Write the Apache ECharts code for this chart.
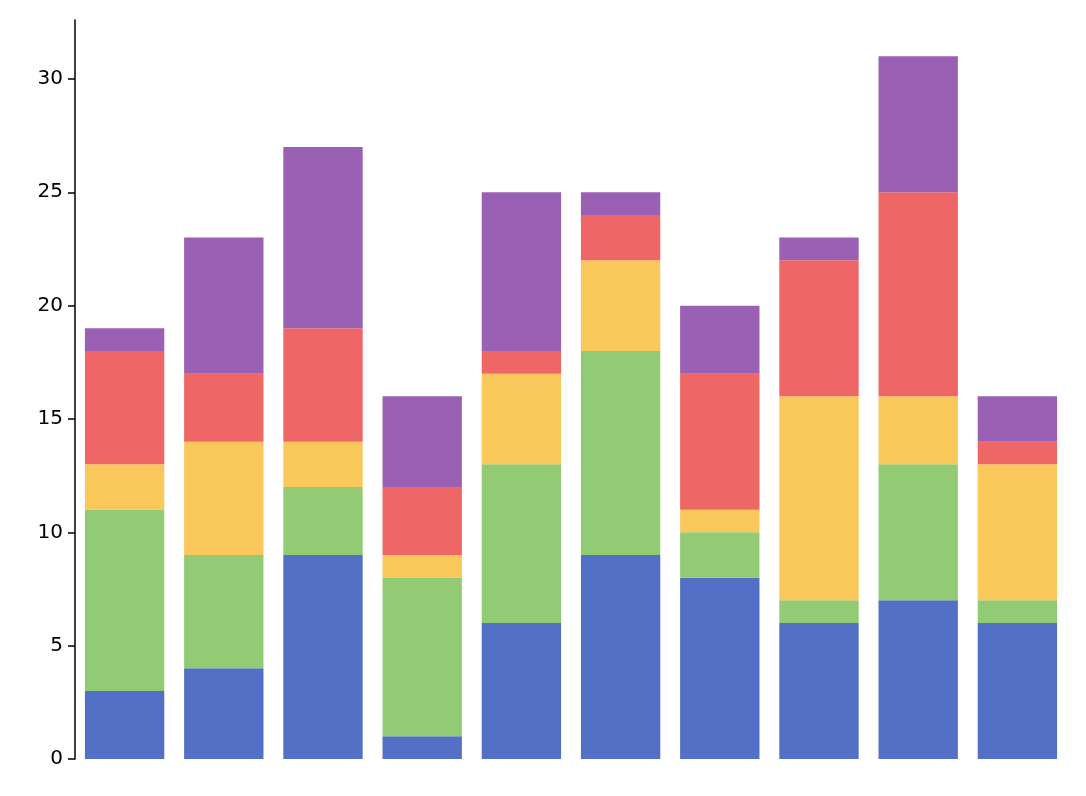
<!DOCTYPE html>
<html>
<head>
<meta charset="utf-8">
<script src="https://cdn.jsdelivr.net/npm/echarts@6/dist/echarts.min.js"></script>
<style>html,body{margin:0;background:#fff}#chart{width:1086px;height:796px}</style>
</head>
<body>
<div id="chart"></div>
<script>
var categories = ['1', '2', '3', '4', '5', '6', '7', '8', '9', '10'];
var blueVals = [3, 4, 9, 1, 6, 9, 8, 6, 7, 6];
var greenVals = [8, 5, 3, 7, 7, 9, 2, 1, 6, 1];
var yellowVals = [2, 5, 2, 1, 4, 4, 1, 9, 3, 6];
var redVals = [5, 3, 5, 3, 1, 2, 6, 6, 9, 1];
var purpleVals = [1, 6, 8, 4, 7, 1, 3, 1, 6, 2];

var myChart = echarts.init(document.getElementById('chart'));

function stack(data, color) {
    return {
        type: 'bar',
        stack: 'all',
        barCategoryGap: '20%',
        itemStyle: { color: color },
        data: data
    };
}

var option = {
    animation: false,
    grid: { left: 75, right: 19, top: 20, bottom: 37 },
    xAxis: {
        type: 'category',
        data: categories,
        axisLine: { show: false },
        axisTick: { show: false },
        axisLabel: { show: false }
    },
    yAxis: {
        type: 'value',
        min: 0,
        max: 32.6,
        interval: 5,
        splitLine: { show: false },
        axisLine: { show: true, lineStyle: { color: '#000', width: 1.5 } },
        axisTick: { show: true, length: 7, lineStyle: { color: '#000', width: 1.5 } },
        axisLabel: { color: '#000', fontSize: 20, margin: 12, showMaxLabel: false, fontFamily: 'DejaVu Sans' }
    },
    series: [
        stack(blueVals, '#5470c6'),
        stack(greenVals, '#93cb74'),
        stack(yellowVals, '#f9c75a'),
        stack(redVals, '#ee6666'),
        stack(purpleVals, '#9a60b4')
    ]
};

myChart.setOption(option);
</script>
</body>
</html>
